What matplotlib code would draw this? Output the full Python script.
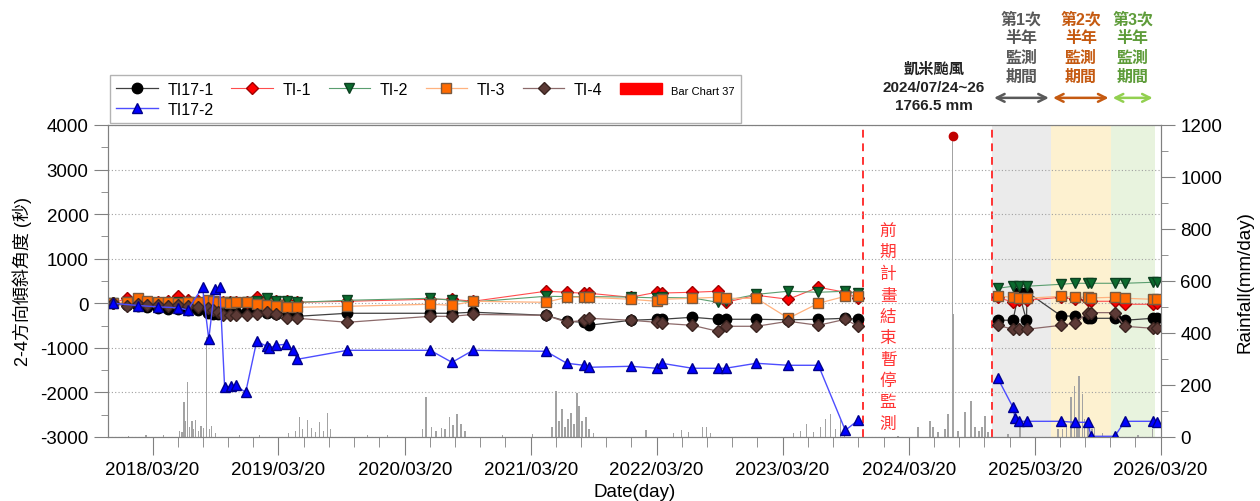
import numpy as np
import pandas as pd
import matplotlib
matplotlib.use('Agg')
import matplotlib.pyplot as plt
import matplotlib.dates as mdates
from matplotlib.patches import Patch
from matplotlib.ticker import MultipleLocator
from matplotlib.transforms import blended_transform_factory

plt.rcParams['font.family'] = ['Liberation Sans', 'Noto Sans CJK TC', 'DejaVu Sans']
plt.rcParams['axes.unicode_minus'] = False

# ---- data: first monitoring phase (2017-2023) ----
dates1 = ['2017-11-25', '2018-01-05', '2018-02-06', '2018-03-04', '2018-04-04', '2018-05-03',
          '2018-06-01', '2018-06-30', '2018-07-29', '2018-08-27', '2018-09-10', '2018-09-25',
          '2018-10-09', '2018-10-30', '2018-11-16', '2018-12-18', '2019-01-16', '2019-02-14',
          '2019-03-14', '2019-04-15', '2019-05-14', '2019-10-06', '2020-06-02', '2020-08-04',
          '2020-10-04', '2021-05-03', '2021-07-03', '2021-08-21', '2021-09-05', '2022-01-04',
          '2022-03-20', '2022-04-04', '2022-07-02', '2022-09-13', '2022-10-06', '2023-01-03',
          '2023-04-06', '2023-07-02', '2023-09-18', '2023-10-25']
ti17_1_a = [0, -30, -67, -90, -112, -130, -135, -150, -160, -220,
            -247, -230, -200, -190, -185, -180, -200, -224, -240, -247,
            -292, -224, -224, -224, -200, -270, -404, -426, -494, -381,
            -359, -359, -314, -359, -359, -359, -370, -359, -337, -359]
ti_1_a = [0, 112, 60, 40, 30, 60, 157, 80, 60, 40,
          30, 20, 30, 40, 30, 40, 135, 90, 45, 45,
          22, 45, 90, 90, 45, 270, 247, 225, 225, 135,
          247, 230, 247, 270, 22, 180, 90, 360, 247, 112]
ti_2_a = [0, 20, 10, 0, 0, 10, 30, 20, 10, 20,
          10, 0, 10, 20, 10, 20, 60, 112, 60, 45,
          22, 67, 112, 67, 30, 157, 150, 150, 150, 140,
          120, 130, 120, 22, 60, 200, 270, 247, 270, 225]
ti_3_a = [0, 40, 112, 60, 40, 30, 0, 20, 30, 67,
          45, 30, 22, 15, 22, 22, -20, -45, -67, -90,
          -90, -67, -22, -45, 45, 22, 135, 135, 135, 90,
          45, 90, 112, 135, 112, 112, -337, 0, 157, 157]
ti_4_a = [0, -67, -20, -30, -40, -50, -40, -60, -80, -110,
          -150, -202, -270, -260, -270, -265, -250, -202, -230, -337,
          -337, -426, -292, -292, -250, -270, -426, -381, -337, -381,
          -426, -449, -494, -628, -516, -516, -404, -494, -359, -516]

dates_b1 = ['2017-11-25', '2018-02-06', '2018-04-04', '2018-06-01', '2018-06-30', '2018-08-12',
            '2018-08-30', '2018-09-16', '2018-10-01', '2018-10-15', '2018-11-02', '2018-11-16',
            '2018-12-15', '2019-01-16', '2019-02-14', '2019-02-20', '2019-03-14', '2019-04-12',
            '2019-04-30', '2019-05-14', '2019-10-06', '2020-06-02', '2020-08-04', '2020-10-04',
            '2021-05-03', '2021-07-03', '2021-08-21', '2021-09-05', '2022-01-04', '2022-03-20',
            '2022-04-04', '2022-07-02', '2022-09-13', '2022-10-06', '2023-01-03', '2023-04-06',
            '2023-07-02', '2023-09-18', '2023-10-25']
ti17_2_a = [0, -50, -80, -100, -150, 360, -808, 314, 360, -1885,
            -1860, -1840, -2000, -850, -965, -1010, -940, -920, -1055, -1256,
            -1055, -1055, -1325, -1055, -1077, -1346, -1391, -1436, -1413, -1458,
            -1346, -1458, -1458, -1458, -1346, -1391, -1391, -2850, -2625]

# ---- data: half-year monitoring (2024-2026) ----
dates2 = ['2024-12-03', '2025-01-16', '2025-02-02', '2025-02-25', '2025-06-04', '2025-07-14',
          '2025-08-21', '2025-08-30', '2025-11-07', '2025-12-06', '2026-02-25', '2026-03-09']
ti_1_b = [135, 22, 67, 67, 135, 90, 67, 45, 45, -22, -22, 0]
ti_2_b = [337, 382, 382, 382, 426, 449, 449, 449, 449, 449, 471, 471]
ti_3_b = [157, 135, 112, 112, 157, 135, 135, 120, 135, 112, 90, 90]
ti_4_b = [-494, -583, -583, -583, -494, -449, -210, -210, -210, -516, -561, -561]

dates_k2 = ['2024-12-03', '2025-01-16', '2025-02-02', '2025-02-24', '2025-02-26', '2025-06-04',
            '2025-07-14', '2025-08-21', '2025-08-30', '2025-11-07', '2025-12-06', '2026-02-25',
            '2026-03-09']
ti17_1_b = [-380, -380, 250, -380, 250, -280, -292, -337, -337, -337, -381, -337, -337]

dates_b2 = ['2024-12-03', '2025-01-16', '2025-01-22', '2025-02-02', '2025-02-25', '2025-06-04',
            '2025-07-14', '2025-08-21', '2025-08-30', '2025-11-07', '2025-12-06', '2026-02-25',
            '2026-03-09']
ti17_2_b = [-1683, -2334, -2580, -2648, -2648, -2648, -2670, -2670, -2984, -2984, -2648, -2648, -2670]

# ---- daily rainfall (mm/day) ----
rain_dates = ['2018-01-10', '2018-03-01', '2018-04-20',
              '2018-06-07', '2018-06-13', '2018-06-19', '2018-06-24', '2018-06-30', '2018-07-06',
              '2018-07-12', '2018-07-17', '2018-07-23', '2018-08-01', '2018-08-07', '2018-08-15',
              '2018-08-24', '2018-09-02', '2018-09-07', '2018-09-19', '2018-11-27', '2019-01-24',
              '2019-04-19', '2019-05-09', '2019-05-20', '2019-05-29', '2019-06-13', '2019-06-24',
              '2019-07-06', '2019-07-17', '2019-07-29', '2019-08-09', '2019-08-18', '2019-12-03',
              '2020-01-30', '2020-05-10', '2020-05-21', '2020-06-05', '2020-06-19', '2020-07-04',
              '2020-07-15', '2020-07-27', '2020-08-07', '2020-08-19', '2020-08-30', '2020-09-11',
              '2020-12-28', '2021-03-26', '2021-05-21', '2021-06-02', '2021-06-10', '2021-06-19',
              '2021-06-28', '2021-07-06', '2021-07-15', '2021-07-24', '2021-08-01', '2021-08-07',
              '2021-08-16', '2021-08-27', '2021-09-05', '2021-09-19', '2022-02-17', '2022-05-08',
              '2022-06-01', '2022-06-21', '2022-07-31', '2022-08-12', '2022-08-24', '2023-04-20',
              '2023-05-11', '2023-05-28', '2023-06-18', '2023-07-08', '2023-07-22', '2023-08-06',
              '2023-08-20', '2023-09-04', '2023-09-15', '2024-02-18', '2024-04-16', '2024-05-21',
              '2024-05-29', '2024-06-13', '2024-07-03', '2024-07-12', '2024-07-25', '2024-07-27',
              '2024-08-10', '2024-08-30', '2024-09-16', '2024-09-28', '2024-10-10', '2024-10-18',
              '2024-10-27', '2024-11-05', '2025-01-01', '2025-02-05', '2025-05-26', '2025-06-09',
              '2025-06-21', '2025-07-03', '2025-07-14', '2025-07-20', '2025-07-26', '2025-08-06',
              '2025-08-12', '2025-08-21', '2025-09-02', '2025-09-10', '2025-10-03', '2026-01-13',
              '2026-02-25']
rain_mm = [5, 8, 6,
           25, 20, 135, 60, 211, 40,
           62, 30, 65, 25, 42, 35,
           385, 30, 42, 15, 8, 6,
           15, 25, 77, 30, 65, 35,
           20, 58, 25, 92, 30, 8,
           6, 30, 154, 40, 25, 35,
           30, 77, 45, 88, 50, 25,
           8, 10, 40, 177, 60, 108,
           40, 70, 92, 50, 169, 119,
           60, 77, 30, 15, 27, 15,
           27, 20, 40, 40, 15, 15,
           25, 50, 20, 40, 69, 88,
           30, 65, 25, 5, 38, 62,
           38, 20, 30, 88, 1158, 473,
           25, 96, 138, 38, 25, 40,
           81, 20, 10, 58, 30, 30,
           50, 154, 196, 60, 235, 165,
           70, 60, 30, 40, 15, 8,
           30]
typhoon_date = '2024-07-25'
typhoon_peak = 1158

stop_dates = ['2023-11-09', '2024-11-16']
period_edges = ['2024-11-16', '2025-05-06', '2025-10-26', '2026-03-03']
period_fill = ['#ebebeb', '#fdf1d0', '#e8f3de']
period_color = ['#595959', '#c55a11', '#5e9c3a']
arrow_color = ['#595959', '#c55a11', '#92d050']
period_names = ['第1次', '第2次', '第3次']
year_ticks = ['2018-03-20', '2019-03-20', '2020-03-20', '2021-03-20', '2022-03-20',
              '2023-03-20', '2024-03-20', '2025-03-20', '2026-03-20']

D = lambda s: pd.to_datetime(s)

fig = plt.figure(figsize=(12.6, 5.02), dpi=100)
ax = fig.add_axes([108 / 1260, 1 - 438 / 502, (1161 - 108) / 1260, 312 / 502])
ax2 = ax.twinx()
ax.set_zorder(ax2.get_zorder() + 1)
ax.patch.set_visible(False)

# shaded monitoring periods + rainfall on the back axis
for i in range(3):
    ax2.axvspan(D(period_edges[i]), D(period_edges[i + 1]), color=period_fill[i], lw=0, zorder=0)
ax2.bar(D(rain_dates), rain_mm, width=4, color='#a3a3a3', lw=0, zorder=2)
ax2.plot(D(typhoon_date), typhoon_peak, 'o', color='#c00000', ms=6, zorder=3)
ax2.set_ylim(0, 1200)
ax2.yaxis.set_major_locator(MultipleLocator(200))
ax2.yaxis.set_minor_locator(MultipleLocator(100))
ax2.set_ylabel('Rainfall(mm/day)', fontsize=13.5, labelpad=10)

styles = {
    'TI17-1': dict(color='#404040', lw=0.9, marker='o', ms=7.5, mfc='black', mec='black'),
    'TI-1': dict(color='#ff4d4d', lw=0.8, marker='D', ms=6, mfc='#ff0000', mec='#a00000'),
    'TI-2': dict(color='#5a9e6f', lw=0.8, marker='v', ms=7.5, mfc='#0b6b2e', mec='#0b4020'),
    'TI-3': dict(color='#ffb27f', lw=0.9, marker='s', ms=7.5, mfc='#ff6a00', mec='#7a5a40'),
    'TI-4': dict(color='#8c6a6a', lw=0.9, marker='D', ms=6, mfc='#5c3a36', mec='#3a2420'),
    'TI17-2': dict(color='#4d4dff', lw=1.0, marker='^', ms=7.5, mfc='#0000ff', mec='#00008b'),
}
series = [
    ('TI17-1', dates1, ti17_1_a, dates_k2, ti17_1_b),
    ('TI-1', dates1, ti_1_a, dates2, ti_1_b),
    ('TI-2', dates1, ti_2_a, dates2, ti_2_b),
    ('TI-3', dates1, ti_3_a, dates2, ti_3_b),
    ('TI-4', dates1, ti_4_a, dates2, ti_4_b),
    ('TI17-2', dates_b1, ti17_2_a, dates_b2, ti17_2_b),
]
handles = {}
for name, d1, v1, d2, v2 in series:
    h, = ax.plot(D(d1), v1, label=name, **styles[name])
    ax.plot(D(d2), v2, **styles[name])
    handles[name] = h

for s in stop_dates:
    ax.axvline(D(s), color='#ff3333', lw=1.4, ls=(0, (4, 3)), zorder=1)

ax.set_ylim(-3000, 4000)
ax.yaxis.set_major_locator(MultipleLocator(1000))
ax.yaxis.set_minor_locator(MultipleLocator(500))
ax.grid(axis='y', ls=(0, (1, 2)), color='#a0a0a0', lw=0.8)
ax.set_ylabel('2-4方向傾斜角度 (秒)', fontsize=13, labelpad=6)

ax.set_xlim(D('2017-11-11'), D('2026-03-21'))
major = mdates.date2num(D(year_ticks))
ax.set_xticks(major)
ax.set_xticklabels([t.replace('-', '/') for t in year_ticks])
minor = np.concatenate([np.linspace(a, b, 6)[1:-1] for a, b in zip(major[:-1], major[1:])])
ax.set_xticks(minor, minor=True)
ax.set_xlabel('Date(day)', fontsize=13.5, labelpad=4)

for a in (ax, ax2):
    for sp in a.spines.values():
        sp.set_color('#808080')
ax.tick_params(which='both', direction='out', color='#808080', labelsize=13.5)
ax.tick_params(which='major', length=10, pad=4)
ax.tick_params(which='minor', length=5)
ax.tick_params(axis='x', which='major', length=13)
ax.tick_params(axis='x', which='minor', length=7)
ax2.tick_params(which='both', direction='out', color='#808080', labelsize=13.5)
ax2.tick_params(which='major', length=10, pad=4)
ax2.tick_params(which='minor', length=5)

# legend
order = ['TI17-1', 'TI17-2', 'TI-1', 'TI-2', 'TI-3', 'TI-4']
hl = [handles[n] for n in order] + [Patch(facecolor='#ff0000', edgecolor='#ff0000')]
lb = order + ['Bar Chart 37']
leg = fig.legend(hl, lb, ncol=6, loc='lower left', bbox_to_anchor=(110 / 1260, 1 - 124 / 502),
                 fontsize=11.5, frameon=True, fancybox=False, edgecolor='#a0a0a0',
                 handlelength=2.6, handletextpad=0.6, columnspacing=1.1, labelspacing=0.3,
                 borderpad=0.4, borderaxespad=0)
leg.get_frame().set_linewidth(1.0)
leg.get_texts()[-1].set_fontsize(8)

# typhoon note
for i, line in enumerate(['凱米颱風', '2024/07/24~26', '1766.5 mm']):
    fig.text(934 / 1260, 1 - (70 + 18 * i) / 502, line, ha='center', va='center',
             fontsize=11, fontweight='bold', color='#222222')

# vertical red note
for i, ch in enumerate('前期計畫結束暫停監測'):
    fig.text(888 / 1260, 1 - (231 + 21.5 * i) / 502, ch, ha='center', va='center',
             fontsize=12, color='#ff3333')

# half-year period labels and arrows
tx = blended_transform_factory(ax.transData, fig.transFigure)
ta = blended_transform_factory(ax.transData, ax.transAxes)
edges = mdates.date2num(D(period_edges))
for i in range(3):
    mid = (edges[i] + edges[i + 1]) / 2
    for j, line in enumerate([period_names[i], '半年', '監測', '期間']):
        fig.text(mid, 1 - (20 + 19 * j) / 502, line, transform=tx, ha='center', va='center',
                 fontsize=11.5, fontweight='bold', color=period_color[i])
    ax.annotate('', xy=(edges[i + 1], 1.087), xytext=(edges[i], 1.087), xycoords=ta,
                annotation_clip=False,
                arrowprops=dict(arrowstyle='<->', color=arrow_color[i], lw=1.8,
                                shrinkA=1.5, shrinkB=1.5, mutation_scale=14))

fig.savefig('out.png', dpi=100, facecolor='white')
